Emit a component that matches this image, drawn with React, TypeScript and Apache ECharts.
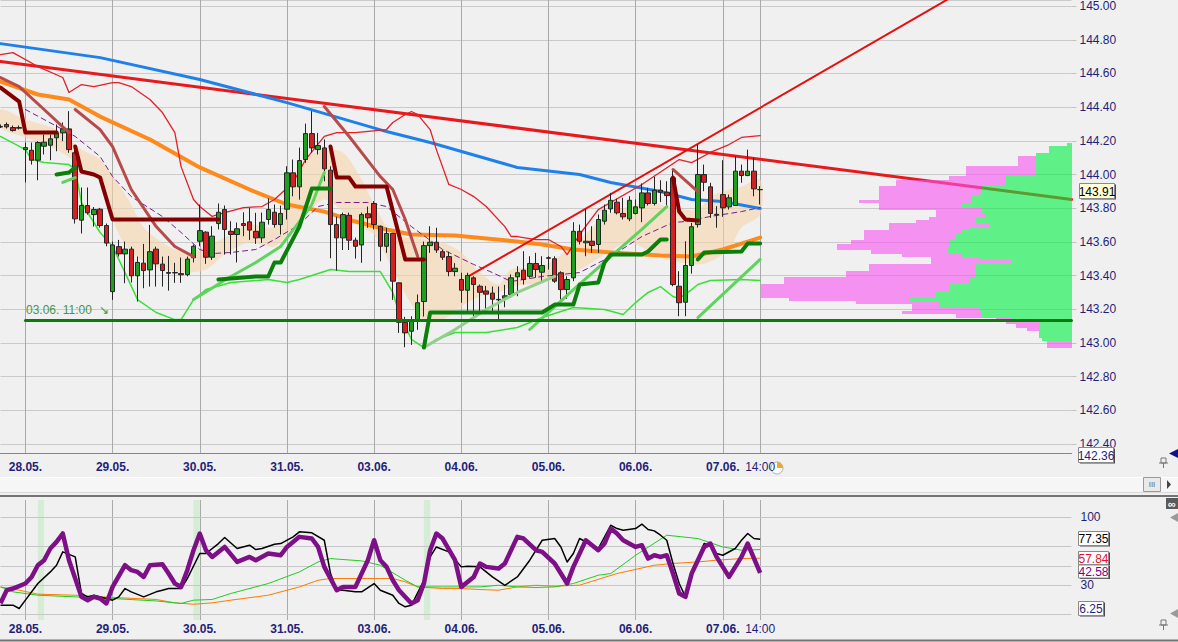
import React, { useEffect, useRef } from "react";
import * as echarts from "echarts";

// ---------- categories ----------
const DAYS = ["27.05.", "28.05.", "29.05.", "30.05.", "31.05.", "03.06.", "04.06.", "05.06.", "06.06.", "07.06."];
const FIRST_HOURS = [18, 19, 20, 21];
const DAY_HOURS = [8, 9, 10, 11, 12, 13, 14, 15, 16, 17, 18, 19, 20, 21];
const LAST_HOURS = [8, 9, 10, 11, 12, 13, 14];
const FUTURE_SLOTS = 50;

// ---------- price axis ----------
const PRICE_MIN = 142.347;
const PRICE_MAX = 145.036;

// ---------- candles [open, close, low, high] ----------
const CANDLES = [
  [144.285, 144.282, 144.276, 144.297], [144.297, 144.283, 144.273, 144.309], [144.279, 144.261, 144.255, 144.291],
  [144.275, 144.279, 144.267, 144.291], [144.148, 144.160, 143.953, 144.190], [144.144, 144.085, 144.059, 144.190],
  [144.085, 144.190, 143.966, 144.198], [144.168, 144.192, 144.119, 144.237], [144.174, 144.212, 144.085, 144.237],
  [144.218, 144.247, 144.138, 144.297], [144.247, 144.271, 144.198, 144.309], [144.271, 144.148, 144.129, 144.376],
  [144.129, 143.737, 143.709, 144.168], [143.729, 143.816, 143.650, 143.923], [143.816, 143.773, 143.762, 143.923],
  [143.762, 143.792, 143.691, 143.807], [143.794, 143.697, 143.685, 143.802], [143.697, 143.593, 143.574, 143.709],
  [143.305, 143.582, 143.256, 143.602], [143.572, 143.529, 143.513, 143.612], [143.529, 143.557, 143.355, 143.602],
  [143.557, 143.399, 143.359, 143.572], [143.399, 143.478, 143.246, 143.513], [143.474, 143.430, 143.325, 143.588],
  [143.434, 143.542, 143.335, 143.701], [143.557, 143.470, 143.335, 143.572], [143.468, 143.430, 143.335, 143.513],
  [143.418, 143.414, 143.311, 143.517], [143.418, 143.416, 143.357, 143.476], [143.412, 143.405, 143.357, 143.507],
  [143.406, 143.498, 143.396, 143.513], [143.506, 143.574, 143.478, 143.585], [143.604, 143.667, 143.574, 143.822],
  [143.658, 143.509, 143.470, 143.663], [143.509, 143.634, 143.493, 143.693], [143.709, 143.776, 143.674, 143.828],
  [143.792, 143.674, 143.525, 143.816], [143.663, 143.644, 143.525, 143.723], [143.644, 143.678, 143.478, 143.715],
  [143.709, 143.697, 143.634, 143.776], [143.719, 143.670, 143.612, 143.802], [143.663, 143.624, 143.588, 143.773],
  [143.624, 143.717, 143.594, 143.774], [143.733, 143.792, 143.703, 143.858], [143.776, 143.703, 143.685, 143.822],
  [143.703, 143.769, 143.644, 143.816], [143.794, 144.010, 143.733, 144.049], [144.010, 143.927, 143.871, 144.089],
  [143.927, 144.083, 143.851, 144.160], [144.089, 144.243, 144.069, 144.302], [144.243, 144.158, 144.129, 144.376],
  [144.148, 144.172, 144.119, 144.247], [144.158, 144.034, 143.960, 144.208], [144.026, 143.703, 143.503, 144.049],
  [143.703, 143.624, 143.430, 143.750], [143.624, 143.762, 143.552, 143.774], [143.758, 143.610, 143.552, 143.774],
  [143.610, 143.574, 143.501, 143.626], [143.582, 143.762, 143.476, 143.774], [143.767, 143.743, 143.684, 143.810],
  [143.828, 143.703, 143.674, 143.842], [143.693, 143.574, 143.485, 143.697], [143.574, 143.650, 143.535, 143.684],
  [143.650, 143.367, 143.256, 143.654], [143.357, 143.123, 143.060, 143.360], [143.123, 143.060, 142.975, 143.155],
  [143.070, 143.129, 142.989, 143.159], [143.129, 143.239, 143.078, 143.288], [143.246, 143.578, 143.157, 143.602],
  [143.578, 143.598, 143.535, 143.693], [143.598, 143.552, 143.535, 143.684], [143.542, 143.509, 143.493, 143.552],
  [143.513, 143.424, 143.396, 143.542], [143.424, 143.444, 143.396, 143.474], [143.377, 143.313, 143.239, 143.417],
  [143.313, 143.401, 143.186, 143.417], [143.387, 143.347, 143.129, 143.396], [143.337, 143.301, 143.177, 143.347],
  [143.309, 143.290, 143.180, 143.339], [143.296, 143.260, 143.177, 143.335], [143.259, 143.256, 143.137, 143.335],
  [143.266, 143.280, 143.212, 143.345], [143.288, 143.387, 143.268, 143.407], [143.393, 143.417, 143.278, 143.456],
  [143.432, 143.377, 143.347, 143.545], [143.396, 143.472, 143.387, 143.515], [143.472, 143.436, 143.387, 143.535],
  [143.420, 143.460, 143.367, 143.515], [143.506, 143.503, 143.436, 143.515], [143.500, 143.367, 143.357, 143.515],
  [143.417, 143.317, 143.258, 143.426], [143.317, 143.377, 143.262, 143.396], [143.387, 143.663, 143.367, 143.717],
  [143.663, 143.604, 143.585, 143.703], [143.595, 143.604, 143.515, 143.796], [143.604, 143.579, 143.535, 143.693],
  [143.585, 143.733, 143.535, 143.763], [143.723, 143.788, 143.703, 143.822], [143.796, 143.847, 143.773, 143.891],
  [143.836, 143.773, 143.763, 143.856], [143.769, 143.749, 143.733, 143.862], [143.737, 143.847, 143.723, 143.871],
  [143.769, 143.808, 143.763, 143.852], [143.802, 143.891, 143.717, 143.947], [143.891, 143.828, 143.816, 143.921],
  [143.828, 143.907, 143.816, 143.986], [143.907, 143.895, 143.836, 143.966], [143.895, 143.875, 143.816, 143.960],
  [143.980, 143.347, 143.337, 144.030], [143.337, 143.239, 143.159, 143.426], [143.242, 143.460, 143.159, 143.604],
  [143.460, 143.690, 143.412, 143.713], [143.703, 144.000, 143.685, 144.178], [144.000, 143.954, 143.901, 144.059],
  [143.927, 143.769, 143.743, 143.951], [143.764, 143.761, 143.684, 143.812], [143.881, 143.802, 143.749, 144.085],
  [143.808, 143.862, 143.792, 143.881], [143.816, 144.020, 143.816, 144.109], [144.020, 143.994, 143.951, 144.059],
  [143.994, 144.020, 143.990, 144.148], [144.020, 143.915, 143.871, 144.099], [143.911, 143.910, 143.822, 143.931],
];

// ---------- indicator lines [categoryIndex, price] ----------
const LONG_MA = [[0, 144.671], [172, 143.852]];
const BLUE_MA = [[0, 144.777], [16, 144.694], [32, 144.564], [46, 144.427], [62, 144.255], [69, 144.19], [83, 144.042],
  [93, 144.0], [98, 143.953], [106, 143.899], [111, 143.852], [116, 143.84], [122, 143.798]];
const ORANGE_MA = [[0, 144.552], [6, 144.475], [11, 144.445], [16, 144.344], [24, 144.208], [32, 144.042], [40, 143.911],
  [46, 143.822], [52, 143.78], [57, 143.721], [62, 143.674], [66, 143.644], [73, 143.638], [83, 143.602], [87, 143.585],
  [92, 143.555], [98, 143.537], [106, 143.519], [111, 143.513], [116, 143.555], [120, 143.602], [122, 143.626]];
const MAROON_SEGMENTS = [
  [[0, 144.516], [3, 144.433], [4, 144.249], [9, 144.249]],
  [[12, 144.166], [13, 144.018], [15, 144.0], [16, 143.982], [18, 143.733], [35, 143.733]],
  [[53, 144.166], [54, 143.982], [56, 143.982], [57, 143.929], [62, 143.929], [65, 143.496], [68, 143.496]],
  [[108, 143.982], [109, 143.78], [110, 143.733], [112, 143.727]],
];
const ROSY_SEGMENTS = [
  [[0, 144.576], [3, 144.522], [7, 144.386], [11, 144.249]],
  [[12, 144.386], [16, 144.267], [18, 144.166], [21, 143.911], [25, 143.691], [28, 143.573], [31, 143.513]],
  [[52, 144.404], [56, 144.226], [61, 143.988], [63, 143.911], [65, 143.733], [67, 143.513]],
  [[108, 144.03], [112, 143.899]],
];
const UPPER_BAND = [[0, 144.712], [2, 144.724], [6, 144.641], [10, 144.576], [11, 144.487], [13, 144.534], [15, 144.522],
  [18, 144.546], [19, 144.546], [21, 144.522], [24, 144.445], [26, 144.368], [28, 144.249], [29, 144.047], [31, 143.852],
  [32, 143.81], [34, 143.751], [35, 143.763], [39, 143.804], [42, 143.81], [44, 143.852], [47, 143.953], [49, 144.089],
  [52, 144.226], [54, 144.249], [57, 144.249], [62, 144.267], [63, 144.309], [65, 144.356], [66, 144.374], [67, 144.356],
  [69, 144.267], [70, 144.148], [72, 143.941], [74, 143.911], [76, 143.869], [78, 143.81], [81, 143.691], [82, 143.632],
  [83, 143.632], [86, 143.614], [88, 143.614], [90, 143.573], [91, 143.525], [93, 143.644], [96, 143.792], [103, 143.941],
  [109, 144.089], [111, 144.071], [114, 144.131], [117, 144.178], [119, 144.22], [122, 144.231]];
const RISING_TREND = [[75, 143.392], [154, 145.08]];
const LOWER_BAND = [[0, 144.226], [4, 144.148], [5, 144.089], [7, 144.071], [11, 144.059], [12, 144.03], [13, 143.834],
  [16, 143.656], [18, 143.573], [20, 143.418], [22, 143.258], [25, 143.181], [28, 143.139], [29, 143.139], [31, 143.258],
  [33, 143.317], [37, 143.359], [43, 143.377], [46, 143.359], [48, 143.377], [53, 143.436], [56, 143.424], [61, 143.424],
  [63, 143.3], [64, 143.181], [66, 143.021], [68, 142.973], [70, 143.021], [73, 143.062], [78, 143.062], [83, 143.092],
  [87, 143.151], [92, 143.211], [97, 143.199], [100, 143.169], [102, 143.24], [104, 143.3], [106, 143.335], [108, 143.276],
  [109, 143.264], [111, 143.317], [112, 143.347], [114, 143.371], [119, 143.377], [122, 143.371]];
const GREEN_DIAGONALS = [
  [[10, 143.953], [12, 143.982]],
  [[31, 143.258], [37, 143.395], [41, 143.478], [45, 143.573], [48, 143.721], [50, 143.822], [52, 144.012]],
  [[85, 143.08], [92, 143.317], [98, 143.513], [103, 143.674], [107, 143.81]],
  [[112, 143.151], [122, 143.496]],
];
const PALE_DIAGONAL = [[68, 142.973], [73, 143.08], [78, 143.199], [83, 143.3], [89, 143.395]];
const DARK_GREEN_SEGMENTS = [
  [[9, 144.0], [11, 144.012], [12, 144.042]],
  [[35, 143.377], [41, 143.395], [43, 143.395], [44, 143.478], [45, 143.478], [48, 143.691], [50, 143.917], [53, 143.917]],
  [[68, 142.973], [69, 143.181], [87, 143.181], [89, 143.228], [92, 143.228], [93, 143.347], [96, 143.359], [97, 143.478],
    [98, 143.525], [103, 143.525], [104, 143.543], [106, 143.614], [107, 143.614]],
  [[112, 143.496], [113, 143.537], [119, 143.543], [120, 143.59], [122, 143.59]],
];
const SUPPORT_LINE = [[4, 143.133], [172, 143.133]];
const MID_LINE = [[4, 144.386], [10, 144.267], [12, 144.226], [16, 144.107], [18, 143.988], [21, 143.869], [26, 143.751],
  [29, 143.656], [32, 143.555], [34, 143.531], [37, 143.537], [41, 143.555], [44, 143.614], [48, 143.703], [51, 143.81],
  [54, 143.834], [59, 143.834], [62, 143.81], [66, 143.691], [71, 143.555], [76, 143.466], [79, 143.418], [82, 143.365],
  [87, 143.395], [93, 143.418], [98, 143.513], [103, 143.632], [108, 143.715], [110, 143.721], [114, 143.751],
  [119, 143.78], [122, 143.804]];

// envelope band (shaded) : index, upper, lower
const ENV_IDX = [0, 4, 9, 13, 16, 19, 21, 23, 27, 30, 33, 36, 40, 44, 47, 49, 52, 55, 58, 60, 63, 66, 68, 71, 74, 77, 80,
  82, 87, 93, 97, 101, 105, 107, 112, 114, 117, 119, 122];
const ENV_UPPER = [144.386, 144.326, 144.267, 144.148, 144.089, 143.941, 143.822, 143.685, 143.573, 143.537, 143.573,
  143.626, 143.703, 143.691, 143.941, 144.089, 144.148, 144.131, 143.97, 143.822, 143.644, 143.626, 143.614, 143.596,
  143.537, 143.418, 143.347, 143.436, 143.454, 143.614, 143.751, 143.81, 143.834, 143.81, 143.792, 143.869, 143.911,
  143.929, 143.97];
const ENV_LOWER = [144.279, 144.22, 144.148, 144.047, 143.953, 143.644, 143.543, 143.484, 143.43, 143.418, 143.436,
  143.525, 143.596, 143.573, 143.685, 143.763, 143.852, 143.78, 143.685, 143.644, 143.436, 143.228, 143.139, 143.139,
  143.217, 143.276, 143.3, 143.335, 143.359, 143.436, 143.525, 143.596, 143.525, 143.496, 143.466, 143.484, 143.555,
  143.685, 143.763];

// ---------- volume profile (price bin start, total volume, up volume) ----------
const PROFILE_BIN = 0.02;
const PROFILE_FIRST = 142.97;
const PROFILE_TOTAL = [25, 25, 30, 33, 33, 45, 56, 66, 76, 116, 170, 160, 160, 216, 283, 311, 311, 311, 311, 288, 288,
  226, 226, 203, 203, 141, 141, 170, 201, 235, 235, 221, 208, 208, 208, 183, 183, 156, 143, 136, 136, 193, 193, 213,
  193, 193, 193, 193, 176, 176, 123, 106, 106, 106, 54, 54, 54, 36, 23, 23, 5];
const PROFILE_UP = [0, 0, 30, 33, 33, 33, 33, 33, 60, 90, 90, 93, 133, 133, 163, 136, 136, 123, 123, 103, 103, 96, 96,
  96, 96, 60, 93, 110, 125, 125, 123, 123, 116, 116, 110, 103, 83, 96, 96, 86, 90, 90, 111, 101, 101, 93, 90, 90, 66,
  66, 66, 36, 36, 36, 36, 36, 36, 36, 23, 23, 5];
const PROFILE_SCALE_MAX = 1071;

// ---------- oscillator panel [categoryIndex, value] ----------
const OSC_PURPLE = [[0, 11.4], [1, 24.8], [2, 26.5], [4, 31.7], [5, 38.5], [6, 50.6], [7, 55.8], [8, 67.9], [9, 74.7],
  [10, 83.4], [11, 55.8], [13, 17.9], [14, 14.5], [15, 17.9], [16, 16.2], [17, 11.1], [18, 28.2], [20, 50.6], [21, 45.5],
  [22, 43.7], [23, 38.5], [24, 50.6], [26, 51.7], [27, 42.0], [28, 31.7], [29, 28.2], [30, 45.5], [31, 66.1], [32, 83.4],
  [33, 66.1], [34, 59.2], [36, 69.5], [38, 54.0], [40, 59.2], [41, 55.8], [43, 62.7], [45, 60.9], [46, 69.5], [48, 79.9],
  [50, 78.2], [51, 69.5], [52, 48.9], [54, 24.8], [55, 28.2], [57, 28.2], [59, 55.8], [60, 76.4], [61, 55.8], [62, 48.9],
  [63, 35.1], [64, 24.8], [66, 11.1], [67, 14.5], [68, 31.7], [69, 66.1], [70, 83.4], [71, 78.2], [73, 55.8], [74, 28.2],
  [76, 38.5], [77, 52.4], [78, 48.9], [80, 47.2], [81, 52.4], [83, 79.9], [84, 78.2], [86, 66.1], [87, 64.4], [89, 52.4],
  [91, 31.7], [92, 48.9], [94, 76.4], [96, 66.1], [97, 73.0], [98, 88.5], [99, 83.4], [100, 76.4], [102, 69.5],
  [103, 71.3], [104, 57.5], [105, 60.9], [106, 59.2], [107, 60.9], [108, 42.0], [109, 21.4], [110, 17.9], [111, 42.0],
  [113, 69.5], [114, 73.0], [115, 59.2], [117, 38.5], [119, 59.2], [120, 73.0], [122, 42.58]];
const OSC_BLACK = [[0, 9.3], [2, 9.3], [3, 5.9], [4, 14.5], [6, 31.7], [8, 43.7], [9, 50.6], [10, 64.4], [12, 59.2],
  [13, 21.4], [14, 17.9], [15, 19.6], [17, 16.2], [18, 14.5], [19, 17.9], [20, 26.5], [21, 23.1], [23, 17.9], [25, 23.1],
  [26, 24.8], [27, 26.5], [29, 26.5], [30, 36.8], [32, 62.7], [33, 62.7], [35, 73.0], [36, 79.2], [38, 67.9], [40, 71.3],
  [41, 66.8], [42, 67.9], [44, 72.3], [45, 73.0], [47, 79.9], [48, 85.1], [50, 84.1], [52, 76.4], [53, 42.0], [54, 24.8],
  [55, 24.8], [57, 23.1], [58, 23.1], [60, 31.7], [61, 24.8], [63, 19.6], [64, 11.1], [65, 7.6], [66, 9.3], [68, 35.1],
  [69, 59.2], [70, 69.5], [72, 64.4], [74, 48.9], [75, 49.6], [77, 48.9], [79, 38.5], [81, 29.9], [83, 38.5], [85, 55.8],
  [87, 76.4], [89, 78.2], [90, 69.5], [91, 54.0], [92, 62.7], [93, 78.2], [96, 67.9], [98, 91.9], [99, 88.5], [100, 86.8],
  [102, 88.5], [103, 93.0], [104, 87.5], [105, 86.1], [106, 81.6], [107, 76.4], [108, 52.4], [109, 31.7], [110, 17.9],
  [111, 42.0], [113, 73.0], [114, 71.3], [115, 62.7], [116, 60.9], [118, 67.9], [119, 76.4], [120, 83.4], [121, 78.2],
  [122, 77.35]];
const OSC_GREEN = [[0, 28.2], [2, 23.1], [6, 19.6], [12, 17.9], [18, 16.2], [25, 13.7], [29, 11.1], [31, 14.5], [34, 15.2],
  [37, 21.4], [43, 31.7], [48, 43.7], [51, 54.0], [53, 57.5], [55, 56.5], [58, 55.1], [61, 50.6], [65, 35.1], [67, 28.2],
  [71, 28.2], [74, 28.2], [77, 28.2], [80, 29.9], [83, 28.2], [86, 27.6], [89, 28.2], [92, 31.7], [96, 40.3], [98, 42.0],
  [102, 60.9], [107, 81.6], [112, 78.2], [116, 69.5], [119, 66.1], [122, 66.8]];
const OSC_ORANGE = [[0, 28.2], [3, 24.8], [6, 20.7], [12, 19.6], [18, 17.3], [25, 15.2], [28, 11.7], [31, 10.3],
  [34, 11.7], [37, 14.5], [43, 19.6], [48, 28.2], [51, 35.1], [53, 36.9], [55, 36.9], [61, 36.9], [63, 36.9], [65, 33.4],
  [67, 28.2], [71, 26.5], [74, 26.5], [77, 25.5], [80, 24.8], [83, 28.2], [86, 29.9], [89, 28.9], [93, 30.0], [99, 42.0],
  [105, 50.6], [108, 52.4], [112, 54.0], [115, 55.8], [119, 57.5], [122, 57.84]];
const OSC_LEVELS = [100, 70, 50, 30, 0];
const OSC_LABELED = [100, 30];
const OSC_SIGNAL_BARS = [6, 31, 68];

// value boxes
const VALUE_BOXES = [
  { text: "143.91", kind: "price" },
  { text: "142.36", kind: "low" },
  { text: "77.35", kind: "black" },
  { text: "57.84", kind: "orange" },
  { text: "42.58", kind: "purple" },
  { text: "6.25", kind: "min" },
];
const SUPPORT_NOTE = "03.06. 11:00  \u2198";

const FONT = 'Arial, "Liberation Sans", Helvetica, sans-serif';
const NAVY = "#1f1f7a";

function buildCategories() {
  const cats: string[] = [];
  const labels: Record<number, string> = {};
  DAYS.forEach((d, di) => {
    const hours = di === 0 ? FIRST_HOURS : di === DAYS.length - 1 ? LAST_HOURS : DAY_HOURS;
    hours.forEach((h, hi) => {
      if (di > 0 && hi === 0) labels[cats.length] = d;
      cats.push(`${d} ${String(h).padStart(2, "0")}:00`);
    });
  });
  const last = cats.length - 1;
  labels[last] = `${String(LAST_HOURS[LAST_HOURS.length - 1]).padStart(2, "0")}:00`;
  for (let k = 1; k <= FUTURE_SLOTS; k++) cats.push(`+${k}`);
  return { cats, labels, last };
}

function buildOption() {
  const { cats, labels, last } = buildCategories();
  const showIdx = (i: number) => labels[i] !== undefined;
  const labelFmt = (_v: string, i: number) => {
    if (!showIdx(i)) return "";
    return i === last ? `{n|${labels[i]}}` : `{b|${labels[i]}}`;
  };
  const rich = {
    b: { fontWeight: "bold", fontSize: 12, color: NAVY, fontFamily: FONT },
    n: { fontSize: 12, color: NAVY, fontFamily: FONT },
  };
  const catAxis = (gridIndex: number, showLine: boolean, margin: number) => ({
    type: "category",
    gridIndex,
    data: cats,
    boundaryGap: false,
    axisLine: { show: showLine, lineStyle: { color: "#858585", width: 1 } },
    axisTick: { show: false },
    axisLabel: { interval: showIdx, formatter: labelFmt, rich, margin },
    splitLine: { show: true, interval: showIdx, lineStyle: { color: "#a9a9a9", width: 1 } },
  });

  const line = (data: number[][], color: string, width: number, z: number, extra: any = {}) => ({
    type: "line",
    xAxisIndex: 0,
    yAxisIndex: 0,
    data,
    symbol: "none",
    silent: true,
    z,
    lineStyle: { color, width, cap: "round", join: "round", ...(extra.lineStyle || {}) },
  });
  const oscLine = (data: number[][], color: string, width: number, z: number, extra: any = {}) => ({
    type: "line",
    xAxisIndex: 1,
    yAxisIndex: 1,
    data,
    symbol: "none",
    silent: true,
    z,
    lineStyle: { color, width, join: "round" },
    ...extra,
  });

  const series: any[] = [];

  // shaded envelope
  series.push({
    type: "custom",
    xAxisIndex: 0,
    yAxisIndex: 0,
    data: [[0, ENV_UPPER[0]]],
    silent: true,
    z: 1,
    renderItem: (_p: any, api: any) => {
      const up = ENV_IDX.map((ix, k) => api.coord([ix, ENV_UPPER[k]]));
      const lo = ENV_IDX.map((ix, k) => api.coord([ix, ENV_LOWER[k]])).reverse();
      return { type: "polygon", shape: { points: up.concat(lo), smooth: 0.3 }, style: { fill: "rgba(247,214,172,0.6)" } };
    },
  });

  series.push(line(LONG_MA, "#e8191c", 3, 3));
  series.push(line(BLUE_MA, "#1f80ea", 3, 3));
  series.push(line(ORANGE_MA, "#ff8a1c", 4, 3));
  series.push(line(UPPER_BAND, "#e2202a", 1.3, 3));
  series.push(line(LOWER_BAND, "#38e038", 1.5, 3));
  series.push(line(MID_LINE, "#7d1a8d", 1, 3, { lineStyle: { type: [5, 4] } }));
  series.push(line(RISING_TREND, "#e60e0e", 2, 3));

  series.push({
    type: "candlestick",
    xAxisIndex: 0,
    yAxisIndex: 0,
    data: CANDLES,
    barWidth: 5,
    silent: true,
    z: 4,
    itemStyle: { color: "#1f9e1f", color0: "#d42020", borderColor: "#242424", borderColor0: "#242424", borderWidth: 1 },
  });

  ROSY_SEGMENTS.forEach((s) => series.push(line(s, "#b84a4a", 3, 5)));
  MAROON_SEGMENTS.forEach((s) => series.push(line(s, "#840000", 4, 5)));
  series.push(line(PALE_DIAGONAL, "#93cf8c", 3, 5));
  GREEN_DIAGONALS.forEach((s) => series.push(line(s, "#5ed35e", 3, 5)));
  DARK_GREEN_SEGMENTS.forEach((s) => series.push(line(s, "#0a7f0a", 4, 5)));

  // volume profile
  series.push({
    type: "custom",
    xAxisIndex: 2,
    yAxisIndex: 2,
    data: PROFILE_TOTAL.map((t, k) => [PROFILE_FIRST + k * PROFILE_BIN, t, PROFILE_UP[k]]),
    encode: { x: 1, y: 0 },
    silent: true,
    z: 6,
    renderItem: (_p: any, api: any) => {
      const lo = api.value(0);
      const total = api.value(1);
      const up = api.value(2);
      const right = api.coord([0, lo + PROFILE_BIN]);
      const pl = api.coord([total, lo]);
      const gl = api.coord([up, lo]);
      const y0 = Math.round(right[1]);
      const y1 = Math.round(pl[1]);
      const h = y1 - y0;
      const xr = Math.round(right[0]);
      const xp = Math.round(pl[0]);
      const xg = Math.round(gl[0]);
      const children: any[] = [];
      if (h <= 0) return { type: "group", children };
      if (xg > xp)
        children.push({ type: "rect", shape: { x: xp, y: y0, width: xg - xp, height: h }, style: { fill: "rgba(248,82,240,0.6)" } });
      if (xr > xg)
        children.push({ type: "rect", shape: { x: xg, y: y0, width: xr - xg, height: h }, style: { fill: "rgba(0,240,67,0.6)" } });
      return { type: "group", children };
    },
  });

  series.push(line(SUPPORT_LINE, "#0b7b0b", 3, 7));

  // oscillator panel
  series.push(
    oscLine(OSC_ORANGE, "#ff7a00", 1, 3, {
      markLine: {
        silent: true,
        z: 1,
        symbol: ["none", "none"],
        animation: false,
        lineStyle: { type: "solid", color: "#c6c6c6", width: 1 },
        data: OSC_LEVELS.map((v) => ({
          yAxis: v,
          label: {
            show: OSC_LABELED.includes(v),
            position: "end",
            distance: 9,
            formatter: String(v),
            color: NAVY,
            fontSize: 12,
            fontFamily: FONT,
          },
        })),
      },
      markArea: {
        silent: true,
        itemStyle: { color: "rgba(160,232,160,0.35)" },
        data: OSC_SIGNAL_BARS.map((ix) => [{ xAxis: ix }, { xAxis: ix + 1 }]),
      },
    })
  );
  series.push(oscLine(OSC_GREEN, "#22cc22", 1, 3));
  series.push(oscLine(OSC_BLACK, "#000000", 1.5, 4));
  series.push(oscLine(OSC_PURPLE, "#7d0f87", 4.5, 5));

  // graphics
  const boxPos: Record<string, any> = {
    price: { x: 1079, y: 183, w: 35, h: 15, fill: "#ffffd8", color: "#000000" },
    low: { x: 1078, y: 447, w: 35, h: 15, fill: "#ffffff", color: NAVY },
    black: { x: 1078, y: 531, w: 30, h: 14, fill: "#ffffff", color: "#000000" },
    orange: { x: 1078, y: 551, w: 30, h: 13, fill: "#ffffff", color: "#e0102a" },
    purple: { x: 1078, y: 564.5, w: 30, h: 13, fill: "#ffffff", color: "#800080" },
    min: { x: 1078, y: 601, w: 25, h: 14, fill: "#ffffff", color: NAVY },
  };
  const g: any[] = [
    { type: "rect", shape: { x: 0, y: 477, width: 1178, height: 16 }, style: { fill: "#f6f6f6" }, z: 0 },
    { type: "line", shape: { x1: 0, y1: 477.5, x2: 1178, y2: 477.5 }, style: { stroke: "#ffffff", lineWidth: 1 } },
    { type: "line", shape: { x1: 0, y1: 492.5, x2: 1178, y2: 492.5 }, style: { stroke: "#d9d9d9", lineWidth: 1 } },
    { type: "line", shape: { x1: 0, y1: 496, x2: 1178, y2: 496 }, style: { stroke: "#747474", lineWidth: 2 } },
    { type: "line", shape: { x1: 0, y1: 640.5, x2: 1178, y2: 640.5 }, style: { stroke: "#747474", lineWidth: 2 } },
    {
      type: "text",
      x: 26,
      y: 304,
      style: { text: SUPPORT_NOTE, fill: "#4b944b", font: `12px ${FONT}` },
      z: 10,
    },
    { type: "circle", shape: { cx: 777, cy: 468, r: 6 }, style: { fill: "#ffffff", stroke: "#b0b0b0", lineWidth: 1 } },
    {
      type: "sector",
      shape: { cx: 777, cy: 468, r: 6, r0: 0, startAngle: -Math.PI / 2, endAngle: 0 },
      style: { fill: "#f5a623" },
    },
    { type: "polygon", shape: { points: [[1178, 449], [1169, 453.5], [1178, 458]] }, style: { fill: "#12128a" } },
    { type: "rect", shape: { x: 1161, y: 458, width: 5, height: 5 }, style: { fill: "none", stroke: "#777", lineWidth: 1 } },
    { type: "line", shape: { x1: 1163.5, y1: 463, x2: 1163.5, y2: 468 }, style: { stroke: "#777", lineWidth: 1 } },
    { type: "line", shape: { x1: 1159, y1: 463, x2: 1168, y2: 463 }, style: { stroke: "#777", lineWidth: 1 } },
    { type: "rect", shape: { x: 1143.5, y: 477.5, width: 17, height: 14 }, style: { fill: "#e9e9e9", stroke: "#9a9a9a", lineWidth: 1 } },
    {
      type: "text",
      x: 1152,
      y: 484.5,
      style: { text: "III", fill: "#666", font: `8px ${FONT}`, align: "center", verticalAlign: "middle" },
    },
    { type: "polygon", shape: { points: [[1167, 480], [1171, 484.5], [1167, 489]] }, style: { fill: "#444" } },
    { type: "rect", shape: { x: 1166, y: 498, width: 12, height: 11 }, style: { fill: "#5a5a5a" } },
    {
      type: "text",
      x: 1172,
      y: 503.5,
      style: { text: "\u221e", fill: "#ffffff", font: `bold 11px ${FONT}`, align: "center", verticalAlign: "middle" },
    },
    { type: "polygon", shape: { points: [[1178, 513], [1170, 517.5], [1178, 522]] }, style: { fill: "#9a9a9a" } },
    { type: "polygon", shape: { points: [[1178, 609], [1170, 613.5], [1178, 618]] }, style: { fill: "#9a9a9a" } },
    { type: "rect", shape: { x: 1161, y: 620, width: 5, height: 5 }, style: { fill: "none", stroke: "#777", lineWidth: 1 } },
    { type: "line", shape: { x1: 1163.5, y1: 625, x2: 1163.5, y2: 630 }, style: { stroke: "#777", lineWidth: 1 } },
    { type: "line", shape: { x1: 1159, y1: 625, x2: 1168, y2: 625 }, style: { stroke: "#777", lineWidth: 1 } },
  ];
  VALUE_BOXES.forEach((b) => {
    const p = boxPos[b.kind];
    g.push({ type: "rect", shape: { x: p.x + 2, y: p.y + 1.5, width: p.w, height: p.h }, style: { fill: "#4a4a4a" }, z: 20 });
    g.push({
      type: "rect",
      shape: { x: p.x + 0.5, y: p.y + 0.5, width: p.w, height: p.h },
      style: { fill: p.fill, stroke: "#8a8a8a", lineWidth: 1 },
      z: 21,
    });
    g.push({
      type: "text",
      x: p.x + p.w / 2 + 0.5,
      y: p.y + p.h / 2 + 1,
      style: { text: b.text, fill: p.color, font: `12px ${FONT}`, align: "center", verticalAlign: "middle" },
      z: 22,
    });
  });

  return {
    animation: false,
    backgroundColor: "#f0f0f0",
    textStyle: { fontFamily: FONT },
    grid: [
      { left: 0.5, top: 0, width: 1071, height: 453 },
      { left: 0.5, top: 500, width: 1071, height: 120 },
      { left: 0.5, top: 0, width: 1071, height: 453 },
    ],
    xAxis: [
      catAxis(0, true, 8),
      catAxis(1, false, 3),
      { type: "value", gridIndex: 2, min: 0, max: PROFILE_SCALE_MAX, inverse: true, show: false },
    ],
    yAxis: [
      {
        type: "value",
        gridIndex: 0,
        position: "right",
        min: PRICE_MIN,
        max: PRICE_MAX,
        splitNumber: 13,
        axisLine: { show: false },
        axisTick: { show: true, length: 5, lineStyle: { color: "#c4c4c4" } },
        axisLabel: {
          showMinLabel: false,
          showMaxLabel: false,
          margin: 8,
          color: NAVY,
          fontSize: 12,
          fontFamily: FONT,
          formatter: (v: number) => v.toFixed(2),
        },
        splitLine: { show: true, lineStyle: { color: "#cacaca", width: 1 } },
      },
      { type: "value", gridIndex: 1, min: -6, max: 118, show: false },
      { type: "value", gridIndex: 2, min: PRICE_MIN, max: PRICE_MAX, show: false },
    ],
    series,
    graphic: { elements: g },
  };
}

export default function App() {
  const ref = useRef<HTMLDivElement>(null);
  useEffect(() => {
    if (!ref.current) return;
    const chart = echarts.init(ref.current, null, { renderer: "svg" });
    chart.setOption(buildOption() as any);
    return () => chart.dispose();
  }, []);
  return (
    <div
      ref={ref}
      style={{ position: "absolute", left: 0, top: 0, width: 1178, height: 642, background: "#f0f0f0" }}
    />
  );
}
